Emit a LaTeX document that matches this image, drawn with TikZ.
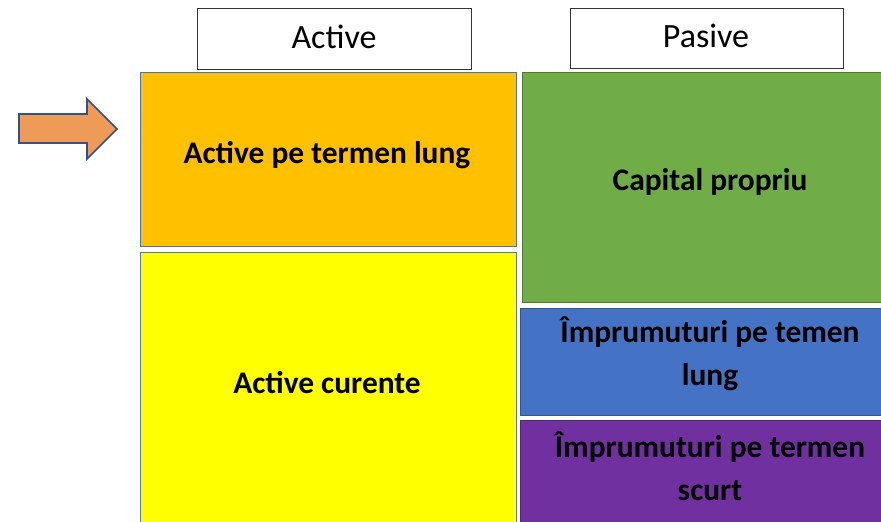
\documentclass[tikz,border=0pt]{standalone}
\usepackage{fontspec}
\setmainfont{Carlito}
\definecolor{corange}{HTML}{FFC000}
\definecolor{cyellow}{HTML}{FFFF00}
\definecolor{cgreen}{HTML}{70AD47}
\definecolor{cblue}{HTML}{4472C4}
\definecolor{cpurple}{HTML}{7030A0}
\definecolor{carrow}{HTML}{ED9B56}
\definecolor{carrowline}{HTML}{2F528F}
\definecolor{cedge}{HTML}{4472C4}
\tikzset{
  blk/.style={line width=0.9pt},
  hdr/.style={draw=black!80, line width=0.8pt, fill=white},
  hdrtext/.style={font=\fontsize{34}{40}\selectfont, inner sep=0pt},
  bodytext/.style={font=\fontsize{31.4}{43}\selectfont\bfseries, align=center, inner sep=0pt},
}
\begin{document}
\begin{tikzpicture}[x=1pt,y=-1pt]
\useasboundingbox (0,0) rectangle (881,522);
\begin{scope}
\clip (0,0) rectangle (881,522);
% header boxes
\draw[hdr] (197,8) rectangle (471,69);
\node[hdrtext] (hactive) at (334,37) {Active};
\draw[hdr] (570,8) rectangle (843,68);
\node[hdrtext] (hpasive) at (706,36) {Pasive};
% left column
\draw[blk, fill=corange, draw=cedge] (140,72) rectangle (516,246);
\node[bodytext] (apl) at (327,155) {Active pe termen lung};
\draw[blk, fill=cyellow, draw=cedge!60!gray] (140,252) rectangle (516,530);
\node[bodytext] (acur) at (327,383) {Active curente};
% right column
\draw[blk, fill=cgreen, draw=cgreen!70!black] (522,72) rectangle (900,302);
\node[bodytext] (cap) at (710,182) {Capital propriu};
\draw[blk, fill=cblue, draw=cblue!75!black] (520,308) rectangle (900,415);
\node[bodytext] (ipl) at (710,354) {Împrumuturi pe temen\\lung};
\draw[blk, fill=cpurple, draw=cpurple!75!black] (520,420) rectangle (900,530);
\node[bodytext] (ips) at (710,466) {Împrumuturi pe termen\\scurt};
% arrow
\draw[line width=1.6pt, draw=carrowline, fill=carrow, line join=miter]
  (19,114) -- (87,114) -- (87,99) -- (117,129) -- (87,159) -- (87,143) -- (19,143) -- cycle;
\end{scope}
\end{tikzpicture}
\end{document}
